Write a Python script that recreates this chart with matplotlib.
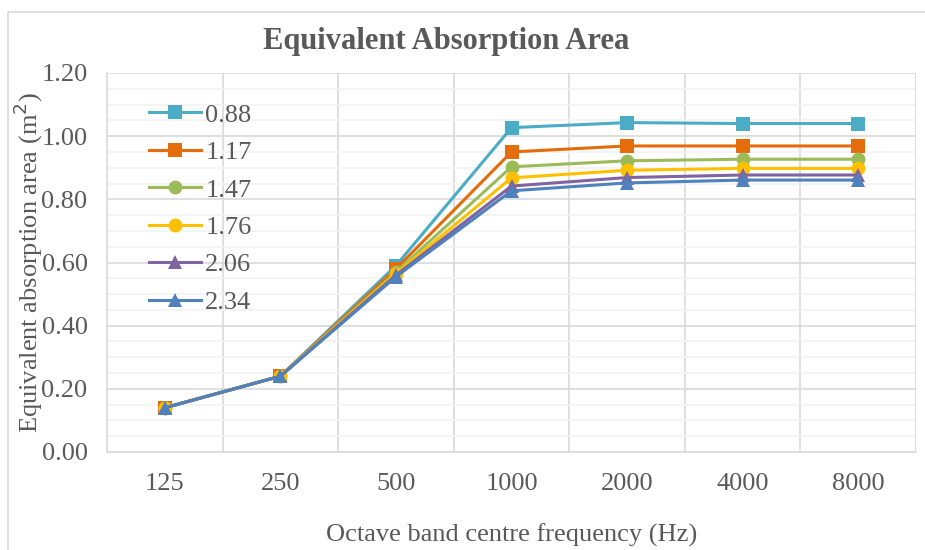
import matplotlib
matplotlib.use("Agg")
import matplotlib.pyplot as plt
from matplotlib.patches import Rectangle
from matplotlib.ticker import MultipleLocator, FixedLocator

plt.rcParams['font.family'] = ['Liberation Serif', 'DejaVu Serif']

frequencies = ["125", "250", "500", "1000", "2000", "4000", "8000"]
series_labels = ["0.88", "1.17", "1.47", "1.76", "2.06", "2.34"]
s_088 = [0.14, 0.24, 0.59, 1.027, 1.043, 1.040, 1.040]
s_117 = [0.14, 0.24, 0.58, 0.950, 0.969, 0.969, 0.969]
s_147 = [0.14, 0.24, 0.570, 0.903, 0.922, 0.927, 0.927]
s_176 = [0.14, 0.24, 0.565, 0.868, 0.892, 0.898, 0.898]
s_206 = [0.14, 0.24, 0.560, 0.842, 0.869, 0.877, 0.877]
s_234 = [0.14, 0.24, 0.555, 0.827, 0.852, 0.861, 0.861]
all_series = [s_088, s_117, s_147, s_176, s_206, s_234]

colors = ["#4BACC6", "#E46C0A", "#9BBB59", "#FFC000", "#8064A2", "#4F81BD"]
markers = ["s", "s", "o", "o", "^", "^"]

fig = plt.figure(figsize=(9.25, 5.5), dpi=100)
ax = fig.add_axes([107/925, (550-452)/550, (916-107)/925, (452-73)/550])

x = list(range(len(frequencies)))
for vals, lab, c, m in zip(all_series, series_labels, colors, markers):
    ax.plot(x, vals, color=c, marker=m, markersize=10, linewidth=2.2, label=lab,
            markeredgewidth=0, zorder=3)

ax.set_xlim(-0.5, len(frequencies) - 0.5)
ax.set_ylim(0, 1.2)
ax.yaxis.set_minor_locator(MultipleLocator(0.05))
yt = [0, 0.2, 0.4, 0.6, 0.8, 1.0, 1.2]
ax.set_yticks(yt)
ax.set_yticklabels([f"{v:.2f}" for v in yt])
ax.set_xticks(x)
ax.set_xticklabels(frequencies)
ax.xaxis.set_minor_locator(FixedLocator([i + 0.5 for i in x[:-1]]))

ax.grid(which='minor', axis='y', color='#F2F2F2', linewidth=1.2, zorder=0)
ax.grid(which='major', axis='y', color='#D9D9D9', linewidth=1.2, zorder=1)
ax.grid(which='minor', axis='x', color='#D9D9D9', linewidth=1.2, zorder=1)
ax.tick_params(which='both', length=0)
ax.tick_params(axis='y', pad=14, labelsize=19, labelcolor='#595959')
ax.tick_params(axis='x', pad=15, labelsize=19, labelcolor='#595959')
for side in ['top', 'right']:
    ax.spines[side].set_visible(False)
for side in ['left', 'bottom']:
    ax.spines[side].set_color('#D9D9D9')
    ax.spines[side].set_linewidth(1.2)
ax.axvline(len(frequencies) - 0.5, color='#D9D9D9', linewidth=1.2, zorder=1)
ax.set_axisbelow(True)

ax.set_xlabel("Octave band centre frequency (Hz)", fontsize=19, color='#595959', labelpad=21)
ax.set_ylabel("Equivalent absorption area (m$^2$)", fontsize=19, color='#595959', labelpad=-3)

fig.text(0.482, 1 - 41/550, "Equivalent Absorption Area", ha='center', va='center',
         fontsize=22, fontweight='bold', color='#595959')

leg = ax.legend(loc='upper left', bbox_to_anchor=(0.022, 0.983), frameon=False,
                fontsize=19, labelcolor='#595959', handlelength=2.0,
                labelspacing=0.53, handletextpad=0.15, borderpad=0.4)

fig.patches.append(Rectangle((8/925, -0.1), 1.2, 1 - 12/550 + 0.1, transform=fig.transFigure,
                             fill=False, edgecolor='#D9D9D9', linewidth=1.2))

fig.savefig("out.png", dpi=100)
